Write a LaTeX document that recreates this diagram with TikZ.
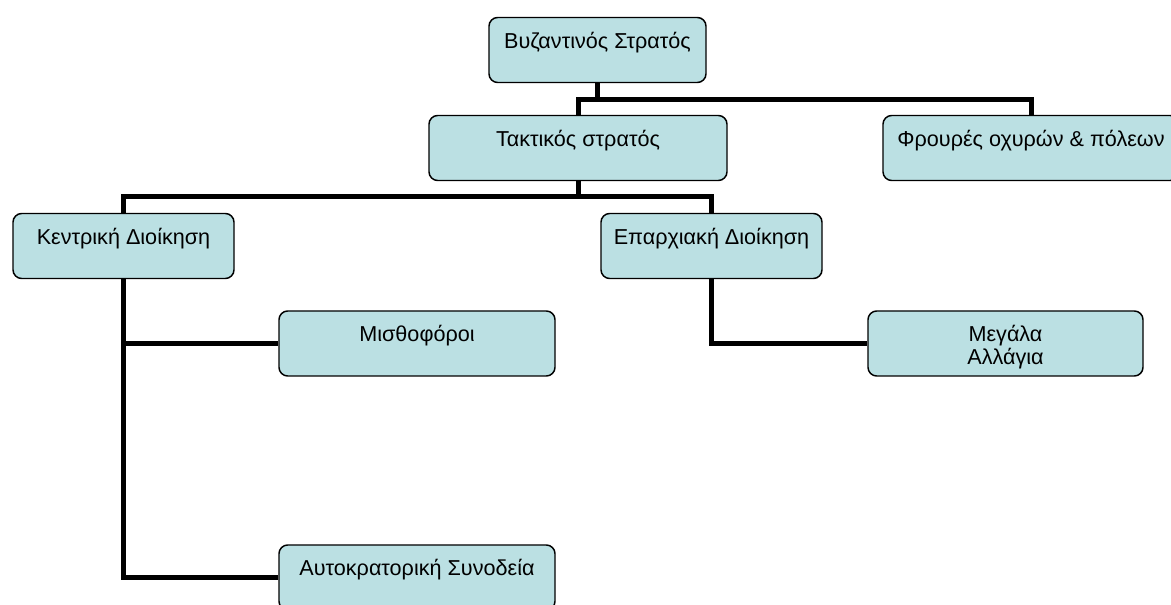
\documentclass[tikz,border=0pt]{standalone}
\usepackage{fontspec}
\setmainfont{Liberation Sans}
\usepackage{tikz}
\usetikzlibrary{calc}
\definecolor{boxcyan}{HTML}{BBE0E3}
\tikzset{
    unit/.style = {
        draw,
        line width = 1.1pt,
        rounded corners = 6.5pt,
        fill = boxcyan,
        align = center,
        inner xsep = 0pt,
        inner ysep = 0pt,
        minimum height = 48.75pt,
        text height = 23pt,
        text depth = 25.75pt,
        font = \fontsize{16.2pt}{17.25pt}\selectfont
    },
    link/.style = {
        line width = 3.75pt
    }
}

\begin{document}
\begin{tikzpicture}[x=0.75pt, y=-0.75pt]
        \useasboundingbox (0,0) rectangle (1171,605);
        \clip (0,0) rectangle (1171,605);

        \node[unit, minimum width=162.75pt] (vyzantinos) at (597.5,50) {Βυζαντινός Στρατός};

        \node[unit, minimum width=223.5pt] (taktikos) at (578,148) {Τακτικός στρατός};
        \node[unit, minimum width=222pt] (frouroi) at (1031,148) {Φρουρές οχυρών \& πόλεων};

        \node[unit, minimum width=165.75pt] (kentriki) at (123.5,246) {Κεντρική Διοίκηση};
        \node[unit, minimum width=165.75pt] (eparxiaki) at (711.5,246) {Επαρχιακή Διοίκηση};

        \node[unit, minimum width=207pt] (misthoforoi) at (417,343.5) {Μισθοφόροι};
        \node[unit, minimum width=206.25pt, text height=40.25pt, text depth=8.5pt]
            (megala) at (1005.5,343.5) {Μεγάλα\\Αλλάγια};
        \node[unit, minimum width=207pt] (synodeia) at (417,577.5) {Αυτοκρατορική Συνοδεία};

        \coordinate (top) at (597.5,100);
        \coordinate (mid) at (578,197);

        \draw[link] (vyzantinos) -- (top);
        \draw[link] (taktikos.north) |- (top) -| (frouroi.north);

        \draw[link] (taktikos) -- (mid);
        \draw[link] (kentriki.north) |- (mid) -| (eparxiaki.north);

        \draw[link] (kentriki.south) |- (synodeia.west);
        \draw[link] (kentriki.south |- misthoforoi.west) -- (misthoforoi.west);

        \draw[link] (eparxiaki.south) |- (megala.west);
    \end{tikzpicture}
\end{document}
